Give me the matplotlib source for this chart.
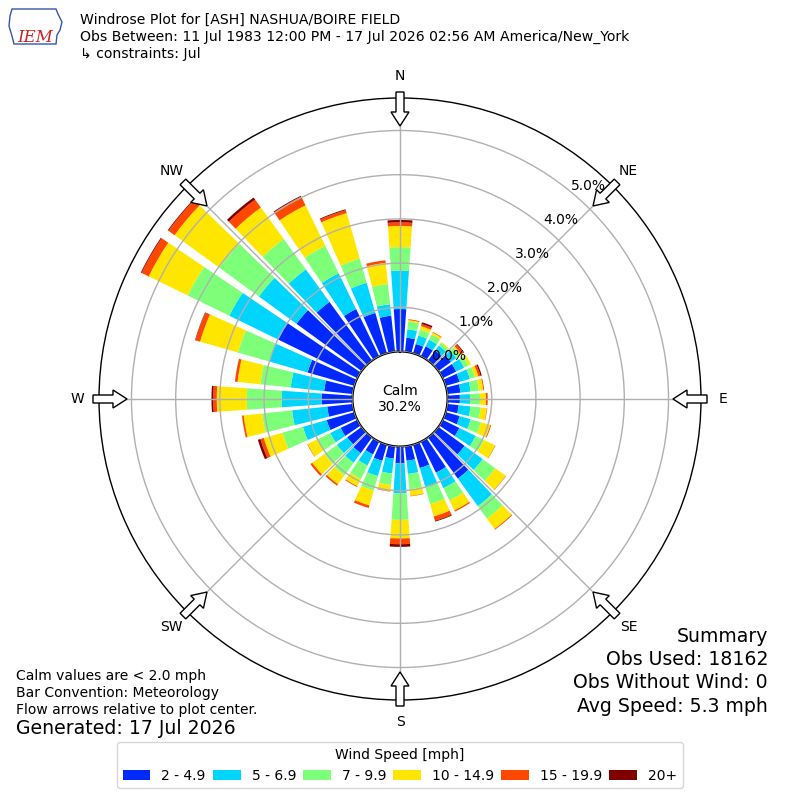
import matplotlib
matplotlib.use("Agg")
import matplotlib.pyplot as plt
from matplotlib.patches import FancyArrow, Polygon, Patch
from matplotlib.transforms import offset_copy
import numpy as np

# direction bins (deg, meteorological), percent of all obs per speed bin
directions = np.arange(0, 360, 10)
spd_2_5 = [0.96, 0.32, 0.22, 0.25, 0.28, 0.35, 0.34, 0.33, 0.30, 0.28,
           0.26, 0.33, 0.42, 0.73, 1.15, 0.78, 0.55, 0.33, 0.38, 0.28,
           0.38, 0.32, 0.44, 0.40, 0.42, 0.65, 0.58, 0.70, 0.65, 1.10,
           2.00, 1.82, 1.64, 1.19, 0.95, 0.82]
spd_5_7 = [0.87, 0.19, 0.20, 0.17, 0.14, 0.15, 0.20, 0.24, 0.23, 0.23,
           0.27, 0.26, 0.41, 0.51, 0.77, 0.39, 0.44, 0.30, 0.68, 0.34,
           0.36, 0.28, 0.27, 0.29, 0.26, 0.56, 0.80, 0.90, 0.76, 0.91,
           1.22, 1.05, 0.91, 0.90, 0.71, 0.26]
spd_7_10 = [0.53, 0.18, 0.14, 0.13, 0.07, 0.10, 0.11, 0.12, 0.19, 0.225,
            0.23, 0.24, 0.21, 0.35, 0.35, 0.31, 0.41, 0.35, 0.60, 0.26,
            0.34, 0.34, 0.35, 0.35, 0.33, 0.48, 0.68, 0.79, 0.69, 0.73,
            1.05, 1.11, 0.85, 0.69, 0.57, 0.46]
spd_10_15 = [0.48, 0.03, 0.08, 0.05, 0.03, 0.04, 0.06, 0.08, 0.10, 0.135,
             0.14, 0.22, 0.28, 0.29, 0.29, 0.25, 0.29, 0.15, 0.42, 0.14,
             0.35, 0.18, 0.25, 0.34, 0.24, 0.44, 0.42, 0.68, 0.52, 0.89,
             0.98, 1.25, 0.88, 1.02, 1.07, 0.48]
spd_15_20 = [0.08, 0.02, 0.05, 0.015, 0.0, 0.06, 0.0, 0.05, 0.02, 0.04,
             0.01, 0.02, 0.01, 0.01, 0.02, 0.03, 0.10, 0.01, 0.13, 0.01,
             0.06, 0.02, 0.04, 0.05, 0.01, 0.08, 0.04, 0.08, 0.06, 0.11,
             0.18, 0.17, 0.22, 0.22, 0.07, 0.06]
spd_20p = [0.055, 0.0, 0.04, 0.0, 0.0, 0.02, 0.0, 0.03, 0.0, 0.0,
           0.0, 0.0, 0.0, 0.0, 0.0, 0.0, 0.02, 0.0, 0.06, 0.0,
           0.0, 0.0, 0.0, 0.0, 0.0, 0.06, 0.0, 0.04, 0.0, 0.01,
           0.02, 0.02, 0.06, 0.02, 0.02, 0.0]
speed_labels = ["2 - 4.9", "5 - 6.9", "7 - 9.9", "10 - 14.9", "15 - 19.9", "20+"]
calm_pct = 30.2
ring_ticks = [0, 1, 2, 3, 4, 5]
compass = ["N", "NE", "E", "SE", "S", "SW", "W", "NW"]

title_lines = ["Windrose Plot for [ASH] NASHUA/BOIRE FIELD",
               "Obs Between: 11 Jul 1983 12:00 PM - 17 Jul 2026 02:56 AM America/New_York",
               "\u21b3 constraints: Jul"]
notes = ["Calm values are < 2.0 mph", "Bar Convention: Meteorology",
         "Flow arrows relative to plot center."]
summary = ["Summary", "Obs Used: 18162", "Obs Without Wind: 0", "Avg Speed: 5.3 mph"]

bins = [spd_2_5, spd_5_7, spd_7_10, spd_10_15, spd_15_20, spd_20p]
colors = plt.cm.jet(np.linspace(0, 1, 7)[1:])

fig = plt.figure(figsize=(8, 8), dpi=100)
ax = fig.add_axes([99 / 800, 100 / 800, 602 / 800, 602 / 800], projection="polar")
ax.set_theta_zero_location("N")
ax.set_theta_direction(-1)
ax.set_rorigin(-1.075)
ax.set_ylim(0, 5.735)

theta = np.radians(directions)
width = np.radians(8)
bottom = np.zeros(len(directions))
for vals, col in zip(bins, colors):
    vals = np.array(vals)
    ax.bar(theta, vals, width=width, bottom=bottom, color=col, linewidth=0, zorder=2)
    bottom = bottom + vals

ax.set_xticks(np.radians(np.arange(0, 360, 45)))
ax.set_xticklabels([])
ax.set_yticks(ring_ticks)
ax.set_yticklabels([])
ax.grid(True, color="#b0b0b0", lw=1)
ax.set_axisbelow(False)
for sp in ax.spines.values():
    sp.set_color("black")
ax.spines["polar"].set_linewidth(1)
ax.spines["inner"].set_linewidth(1.5)

# ring labels
tr = offset_copy(ax.transData, fig=fig, x=18, y=6, units="dots")
for k in ring_ticks:
    ax.text(np.radians(39.5), k, f"{k:.1f}%", transform=tr, ha="center",
            va="center", fontsize=10, zorder=5)

ax.text(0, -1.075, f"Calm\n{calm_pct:.1f}%", ha="center", va="center",
        fontsize=10, zorder=6)

# compass labels and flow arrows
for i, lab in enumerate(compass):
    a = np.radians(i * 45)
    s, c = np.sin(a), np.cos(a)
    ax.text(0.5 + 0.5365 * s, 0.5 + 0.5365 * c, lab, transform=ax.transAxes,
            ha="center", va="center", fontsize=10)
    r0 = 307 / 602
    ln = 34 / 602
    arr = FancyArrow(0.5 + r0 * s, 0.5 + r0 * c, -ln * s, -ln * c,
                     width=8 / 602, head_width=18 / 602, head_length=14 / 602,
                     length_includes_head=True, transform=ax.transAxes,
                     facecolor="white", edgecolor="black", lw=1,
                     clip_on=False, zorder=10)
    ax.add_patch(arr)

# header
for i, line in enumerate(title_lines):
    fig.text(80 / 800, 1 - (20 + 17 * i) / 800, line, fontsize=10.1, va="center")

# IEM logo (rough)
iowa = [(12, 9), (56, 9), (58, 14), (62, 22), (60, 30), (57, 35), (56, 44),
        (14, 44), (12, 36), (9, 26), (10, 16)]
fig.patches.append(Polygon([(x / 800, 1 - y / 800) for x, y in iowa], closed=True,
                           transform=fig.transFigure, facecolor="white",
                           edgecolor="#3355aa", lw=1))
fig.text(35 / 800, 1 - 37 / 800, "IEM", color="#cc2222", fontsize=12,
         family="serif", style="italic", ha="center", va="center")

for i, line in enumerate(notes):
    fig.text(16 / 800, 1 - (676 + 17 * i) / 800, line, fontsize=10, va="center")
fig.text(16 / 800, 1 - 729 / 800, "Generated: 17 Jul 2026", fontsize=13.6, va="center")

for i, line in enumerate(summary):
    fig.text(768 / 800, 1 - (636 + 23.5 * i) / 800, line, fontsize=13.6,
             ha="right", va="center")

handles = [Patch(facecolor=c, edgecolor="none") for c in colors]
fig.legend(handles, speed_labels, loc="lower center", ncol=6,
           bbox_to_anchor=(0.5, 0.00625), title="Wind Speed [mph]", fontsize=10,
           title_fontsize=10, handlelength=2.0, handleheight=0.7,
           columnspacing=0.5)

fig.savefig("out.png", dpi=100)
